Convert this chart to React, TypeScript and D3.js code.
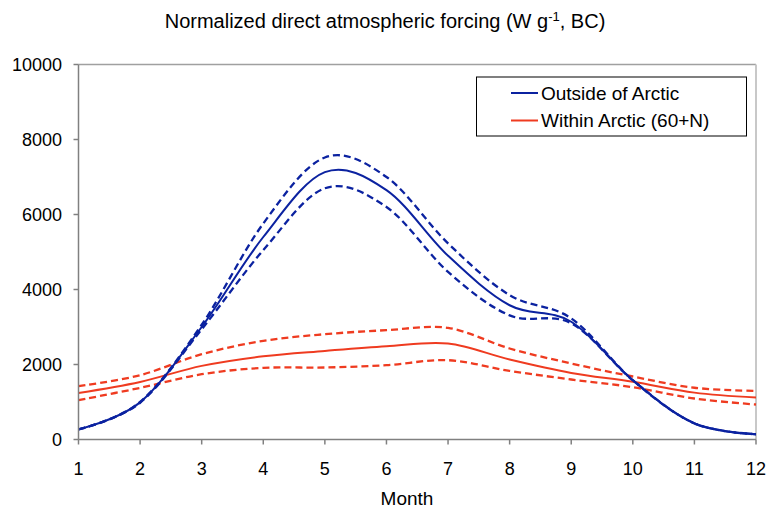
import React from "react";
import * as d3 from "d3";

const months = [1, 2, 3, 4, 5, 6, 7, 8, 9, 10, 11, 12];
const outsideMid = [270, 990, 3000, 5400, 7130, 6650, 4900, 3580, 3140, 1580, 430, 140];
const outsideUpper = [270, 1000, 3060, 5760, 7520, 7000, 5230, 3850, 3230, 1580, 430, 140];
const outsideLower = [270, 980, 2940, 5050, 6700, 6200, 4470, 3310, 3100, 1580, 430, 140];
const arcticMid = [1243, 1536, 1963, 2220, 2363, 2488, 2560, 2133, 1776, 1540, 1250, 1120];
const arcticUpper = [1421, 1715, 2275, 2630, 2808, 2915, 2976, 2427, 2027, 1680, 1380, 1296];
const arcticLower = [1048, 1376, 1741, 1910, 1920, 1981, 2115, 1830, 1600, 1395, 1093, 933];
const yTicks = [0, 2000, 4000, 6000, 8000, 10000];
const legendLabels = ["Outside of Arctic", "Within Arctic (60+N)"];

const BLUE = "#0b22a0";
const RED = "#ef3b20";
const FONT = "'Liberation Sans', Arial, sans-serif";

export default function App() {
  const W = 769, H = 509;
  const left = 78.5, right = 756, top = 64.5, bottom = 439.5;
  const x = d3.scaleLinear().domain([1, 12]).range([left, right]);
  const y = d3.scaleLinear().domain([0, 10000]).range([bottom, top]);
  const line = d3
    .line<number>()
    .x((_, i) => x(months[i]))
    .y((d) => y(d))
    .curve(d3.curveCatmullRom.alpha(0));

  const series = [
    { data: arcticUpper, color: RED, dash: "7,4", w: 2.3 },
    { data: arcticLower, color: RED, dash: "7,4", w: 2.3 },
    { data: arcticMid, color: RED, dash: null, w: 2 },
    { data: outsideUpper, color: BLUE, dash: "7,4", w: 2.3 },
    { data: outsideLower, color: BLUE, dash: "7,4", w: 2.3 },
    { data: outsideMid, color: BLUE, dash: null, w: 2 },
  ];

  return (
    <svg width={W} height={H} style={{ position: "absolute", left: 0, top: 0, background: "#fff" }} fontFamily={FONT}>
      <text x={385} y={28} fontSize={20} textAnchor="middle" fill="#000">
        Normalized direct atmospheric forcing (W g
        <tspan fontSize={13} dy={-7}>-1</tspan>
        <tspan dy={7}>, BC)</tspan>
      </text>
      {/* plot border */}
      <line x1={left} x2={right} y1={top} y2={top} stroke="#a0a0a0" strokeWidth={1.5} />
      <line x1={right} x2={right} y1={top} y2={bottom} stroke="#c8c8c8" strokeWidth={2} />
      {series.map((s, i) => (
        <path
          key={i}
          d={line(s.data) || ""}
          fill="none"
          stroke={s.color}
          strokeWidth={s.w}
          strokeDasharray={s.dash || undefined}
        />
      ))}
      {/* axes */}
      <line x1={left} x2={left} y1={top} y2={bottom} stroke="#808080" strokeWidth={1.5} />
      <line x1={left} x2={right} y1={bottom} y2={bottom} stroke="#808080" strokeWidth={1.5} />
      {yTicks.map((t) => (
        <g key={t}>
          <line x1={left - 5} x2={left} y1={y(t)} y2={y(t)} stroke="#808080" strokeWidth={1.5} />
          <text x={62} y={y(t) + 6.5} fontSize={18} textAnchor="end" fill="#000">
            {t}
          </text>
        </g>
      ))}
      {months.map((m) => (
        <g key={m}>
          <line x1={x(m)} x2={x(m)} y1={bottom} y2={bottom + 5} stroke="#808080" strokeWidth={1.5} />
          <text x={x(m)} y={475} fontSize={18} textAnchor="middle" fill="#000">
            {m}
          </text>
        </g>
      ))}
      <text x={407} y={505} fontSize={19} textAnchor="middle" fill="#000">
        Month
      </text>
      {/* legend */}
      <rect x={476.5} y={77} width={270} height={59} fill="#fff" stroke="#000" strokeWidth={1} />
      {legendLabels.map((lab, i) => (
        <g key={lab}>
          <line x1={511} x2={538} y1={93 + i * 27.5} y2={93 + i * 27.5} stroke={i === 0 ? BLUE : RED} strokeWidth={2} />
          <text x={541} y={99.5 + i * 27.5} fontSize={19} fill="#000">
            {lab}
          </text>
        </g>
      ))}
    </svg>
  );
}
